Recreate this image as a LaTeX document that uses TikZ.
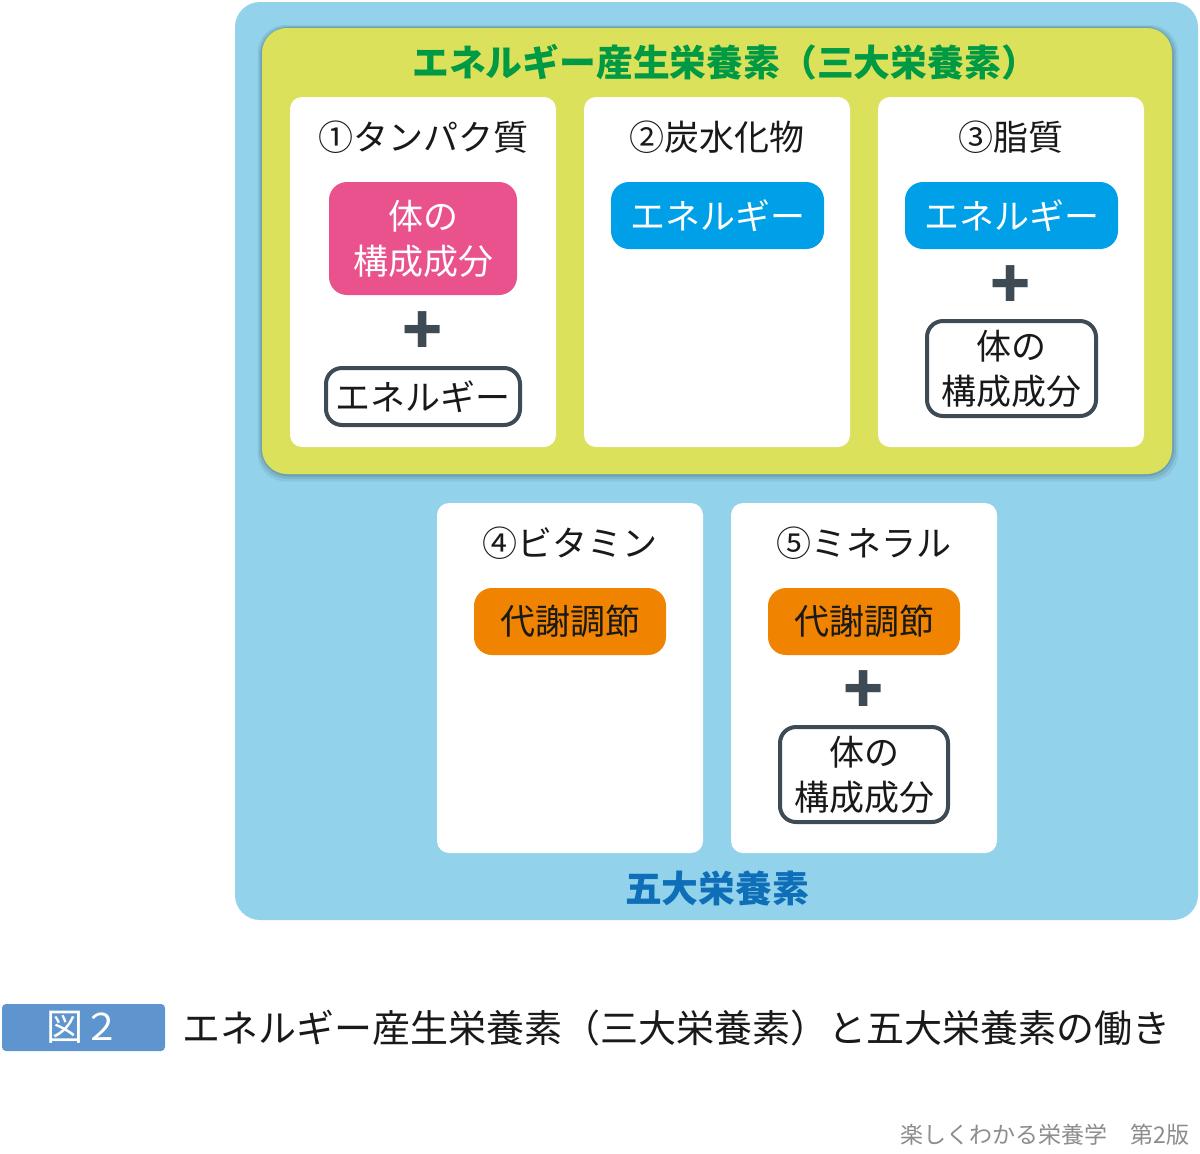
\documentclass[tikz,border=0pt]{standalone}
\usepackage{fontspec}
\newfontfamily\cjk{Noto Sans CJK JP}
\definecolor{sky}{HTML}{92D3EB}
\definecolor{lime}{HTML}{DCE15B}
\definecolor{leaf}{HTML}{009944}
\definecolor{rose}{HTML}{E9528D}
\definecolor{cyanpill}{HTML}{00A0E9}
\definecolor{tangerine}{HTML}{F08300}
\definecolor{slate}{HTML}{3E4B54}
\definecolor{navy}{HTML}{0F6EB8}
\definecolor{tagblue}{HTML}{5F95CF}
\tikzset{every node/.style={font=\cjk\fontsize{17.5}{22.5}\selectfont, align=center, inner sep=0pt, text=black!90}}
\begin{document}
\begin{tikzpicture}[x=0.5pt,y=-0.5pt,
        card/.style={fill=white, rounded corners=6pt, minimum width=133pt, minimum height=175pt},
        pill/.style={rounded corners=9pt, minimum width=#1, minimum height=33.5pt},
        frame/.style={draw=slate, line width=2pt, fill=white, rounded corners=8pt},
        plus/.style={text=slate, font=\cjk\bfseries\fontsize{33}{33}\selectfont},
        head/.style={font=\cjk\bfseries\fontsize{18.4}{18.4}\selectfont}]
    \useasboundingbox (0,0) rectangle (1200,1153);
    % five nutrients
    \node[fill=sky, rounded corners=12.5pt, minimum width=481.5pt, minimum height=459pt] (five) at (716.5,461) {};
    % shadow, then the three energy nutrients
    \foreach \s/\o in {3/0.10,2/0.14,1/0.2}
        \fill[black!60!sky, opacity=\o, rounded corners=14pt] (262-\s*1.5,28-\s*1) rectangle (1172+\s*2,474+\s*2.5);
    \node[fill=lime, rounded corners=12.5pt, minimum width=455pt, minimum height=223pt] (three) at (717,251) {};
    \node[head, text=leaf] (threetitle) at (725,62) {エネルギー産生栄養素（三大栄養素）};
    \node[card] (protein) at (423,272) {};
    \node[card] (carbo) at (717,272) {};
    \node[card] (lipid) at (1011,272) {};
    \node[card] (vitamin) at (570,678) {};
    \node[card] (mineral) at (864,678) {};
    \node (proteinlbl) at (423,137) {①タンパク質};
    \node (carbolbl) at (717,137) {②炭水化物};
    \node (lipidlbl) at (1011,137) {③脂質};
    \node (vitaminlbl) at (570,543) {④ビタミン};
    \node (minerallbl) at (864,543) {⑤ミネラル};
    % 1
    \node[pill=94pt, minimum height=56.5pt, fill=rose, text=white] (proteinbody) at (423,238.5) {体の\\構成成分};
    \node[plus] (proteinplus) at (423,333) {+};
    \node[frame, minimum width=97pt, minimum height=28.5pt] (proteinene) at (423,396.5) {エネルギー};
    % 2
    \node[pill=106.5pt, fill=cyanpill, text=white] (carboene) at (717.5,215.5) {エネルギー};
    % 3
    \node[pill=106.5pt, fill=cyanpill, text=white] (lipidene) at (1011.5,215.5) {エネルギー};
    \node[plus] (lipidplus) at (1011,287) {+};
    \node[frame, minimum width=84.5pt, minimum height=47.5pt] (lipidbody) at (1011.5,368.5) {体の\\構成成分};
    % 4
    \node[pill=96pt, fill=tangerine] (vitaminreg) at (570,621.5) {代謝調節};
    % 5
    \node[pill=96pt, fill=tangerine] (mineralreg) at (864,621.5) {代謝調節};
    \node[plus] (mineralplus) at (864,692) {+};
    \node[frame, minimum width=84pt, minimum height=47.5pt] (mineralbody) at (864,774.5) {体の\\構成成分};
    \node[head, text=navy] (fivetitle) at (717,888) {五大栄養素};
    % caption
    \node[fill=tagblue, rounded corners=2pt, minimum width=81.5pt, minimum height=23.5pt, text=white, font=\cjk\fontsize{18.5}{18.5}\selectfont] (tag) at (83.5,1027.5) {図２};
    \node[anchor=west, font=\cjk\fontsize{19}{19}\selectfont] (caption) at (182,1028) {エネルギー産生栄養素（三大栄養素）と五大栄養素の働き};
    \node[anchor=east, text=black!45, font=\cjk\fontsize{11.5}{11.5}\selectfont] (book) at (1190,1135) {楽しくわかる栄養学　第2版};
\end{tikzpicture}
\end{document}
